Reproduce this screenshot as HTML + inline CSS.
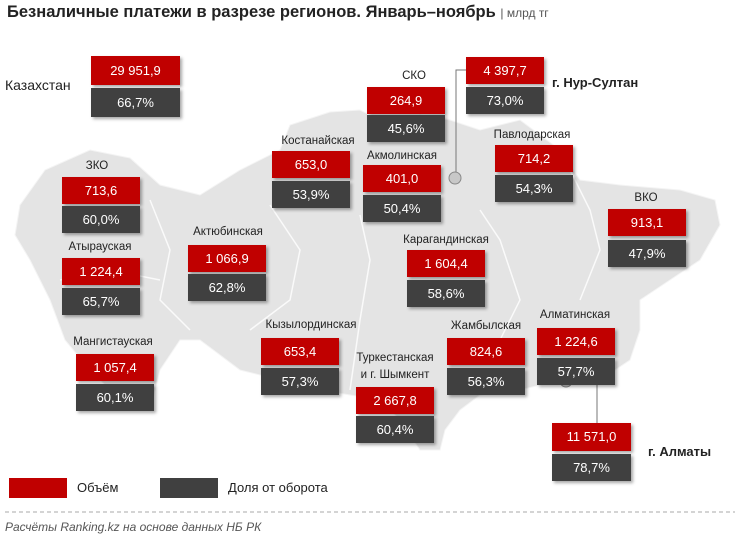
<!DOCTYPE html>
<html><head><meta charset="utf-8"><style>
body{margin:0;width:740px;height:543px;background:#fff;position:relative;overflow:hidden;font-family:"Liberation Sans",sans-serif;}
.t{position:absolute;white-space:nowrap;}
.r,.d{position:absolute;width:78px;height:27px;color:#fff;font-size:13px;text-align:center;line-height:27px;box-shadow:2px 2px 3px rgba(0,0,0,.35);}
.r{background:#c00000}.d{background:#404040}
.l{position:absolute;font-size:11.5px;color:#222;transform:translateX(-50%);white-space:nowrap}
</style></head><body>
<svg width="740" height="543" style="position:absolute;left:0;top:0">
<polygon fill="#e4e4e4" stroke="#f4f4f4" stroke-width="1" points="20,205 45,170 90,150 130,158 160,185 200,195 240,170 280,150 290,125 330,112 360,110 380,120 400,130 420,115 450,120 480,130 520,120 560,150 580,180 620,185 680,190 715,200 720,225 700,260 670,280 640,300 640,330 630,360 600,380 560,380 520,390 480,395 460,410 445,430 440,450 420,450 400,420 380,400 350,395 320,390 280,380 240,370 200,340 180,340 160,370 150,410 120,400 90,370 65,340 50,300 30,260 15,235"/>
<g stroke="#fafafa" stroke-width="1.5" fill="none">
<polyline points="150,200 170,250 160,300 190,330"/><polyline points="270,205 300,250 290,300 250,330"/><polyline points="360,215 370,260 360,320 350,390"/><polyline points="480,210 500,240 520,300 500,340"/><polyline points="560,150 590,210 600,250 580,300"/><polyline points="60,280 110,270 160,280"/>
</g>
<polyline points="466,70 456,70 456,172" stroke="#777" fill="none"/>
<circle cx="455" cy="178" r="6" fill="#c8c8c8" stroke="#888"/>
<line x1="597" y1="372" x2="597" y2="426" stroke="#777"/>
<circle cx="566" cy="381" r="6" fill="#c8c8c8" stroke="#888"/>
<line x1="5" y1="512" x2="735" y2="512" stroke="#aaa" stroke-dasharray="4,3"/>
</svg>
<div class="t" style="left:7px;top:3px;font-size:16.5px;font-weight:bold;color:#222">Безналичные платежи в разрезе регионов. Январь–ноябрь <span style="font-weight:normal;font-size:12px;color:#555">| млрд тг</span></div>
<div class="t" style="left:5px;top:77px;font-size:14px;color:#222">Казахстан</div>
<div class="r" style="left:91px;top:56px;width:89px;height:29px;line-height:29px">29 951,9</div><div class="d" style="left:91px;top:88px;width:89px;height:29px;line-height:29px">66,7%</div>

<div class="l" style="left:414px;top:70px">СКО</div>
<div class="r" style="left:367px;top:87px">264,9</div><div class="d" style="left:367px;top:115px">45,6%</div>

<div class="r" style="left:466px;top:57px">4 397,7</div><div class="d" style="left:466px;top:87px">73,0%</div>
<div class="t" style="left:552px;top:75px;font-size:13px;font-weight:bold;color:#222">г. Нур-Султан</div>

<div class="l" style="left:318px;top:135px">Костанайская</div>
<div class="r" style="left:272px;top:151px">653,0</div><div class="d" style="left:272px;top:181px">53,9%</div>

<div class="l" style="left:402px;top:150px">Акмолинская</div>
<div class="r" style="left:363px;top:165px">401,0</div><div class="d" style="left:363px;top:195px">50,4%</div>

<div class="l" style="left:532px;top:129px">Павлодарская</div>
<div class="r" style="left:495px;top:145px">714,2</div><div class="d" style="left:495px;top:175px">54,3%</div>

<div class="l" style="left:97px;top:160px">ЗКО</div>
<div class="r" style="left:62px;top:177px">713,6</div><div class="d" style="left:62px;top:206px">60,0%</div>

<div class="l" style="left:646px;top:192px">ВКО</div>
<div class="r" style="left:608px;top:209px">913,1</div><div class="d" style="left:608px;top:240px">47,9%</div>

<div class="l" style="left:100px;top:241px">Атырауская</div>
<div class="r" style="left:62px;top:258px">1 224,4</div><div class="d" style="left:62px;top:288px">65,7%</div>

<div class="l" style="left:228px;top:226px">Актюбинская</div>
<div class="r" style="left:188px;top:245px">1 066,9</div><div class="d" style="left:188px;top:274px">62,8%</div>

<div class="l" style="left:446px;top:234px">Карагандинская</div>
<div class="r" style="left:407px;top:250px">1 604,4</div><div class="d" style="left:407px;top:280px">58,6%</div>

<div class="l" style="left:311px;top:319px">Кызылординская</div>
<div class="r" style="left:261px;top:338px">653,4</div><div class="d" style="left:261px;top:368px">57,3%</div>

<div class="l" style="left:486px;top:320px">Жамбылская</div>
<div class="r" style="left:447px;top:338px">824,6</div><div class="d" style="left:447px;top:368px">56,3%</div>

<div class="l" style="left:575px;top:309px">Алматинская</div>
<div class="r" style="left:537px;top:328px">1 224,6</div><div class="d" style="left:537px;top:358px">57,7%</div>

<div class="l" style="left:113px;top:336px">Мангистауская</div>
<div class="r" style="left:76px;top:354px">1 057,4</div><div class="d" style="left:76px;top:384px">60,1%</div>

<div class="l" style="left:395px;top:350px;text-align:center;line-height:17px">Туркестанская<br>и г. Шымкент</div>
<div class="r" style="left:356px;top:387px">2 667,8</div><div class="d" style="left:356px;top:416px">60,4%</div>

<div class="r" style="left:552px;top:423px;width:79px;height:28px;line-height:28px">11 571,0</div><div class="d" style="left:552px;top:454px;width:79px">78,7%</div>
<div class="t" style="left:648px;top:444px;font-size:13px;font-weight:bold;color:#222">г. Алматы</div>

<div style="position:absolute;left:9px;top:478px;width:58px;height:20px;background:#c00000"></div>
<div class="t" style="left:77px;top:480px;font-size:13px;color:#222">Объём</div>
<div style="position:absolute;left:160px;top:478px;width:58px;height:20px;background:#404040"></div>
<div class="t" style="left:228px;top:480px;font-size:13px;color:#222">Доля от оборота</div>
<div class="t" style="left:5px;top:520px;font-size:12px;font-style:italic;color:#555">Расчёты Ranking.kz на основе данных НБ РК</div>
</body></html>
